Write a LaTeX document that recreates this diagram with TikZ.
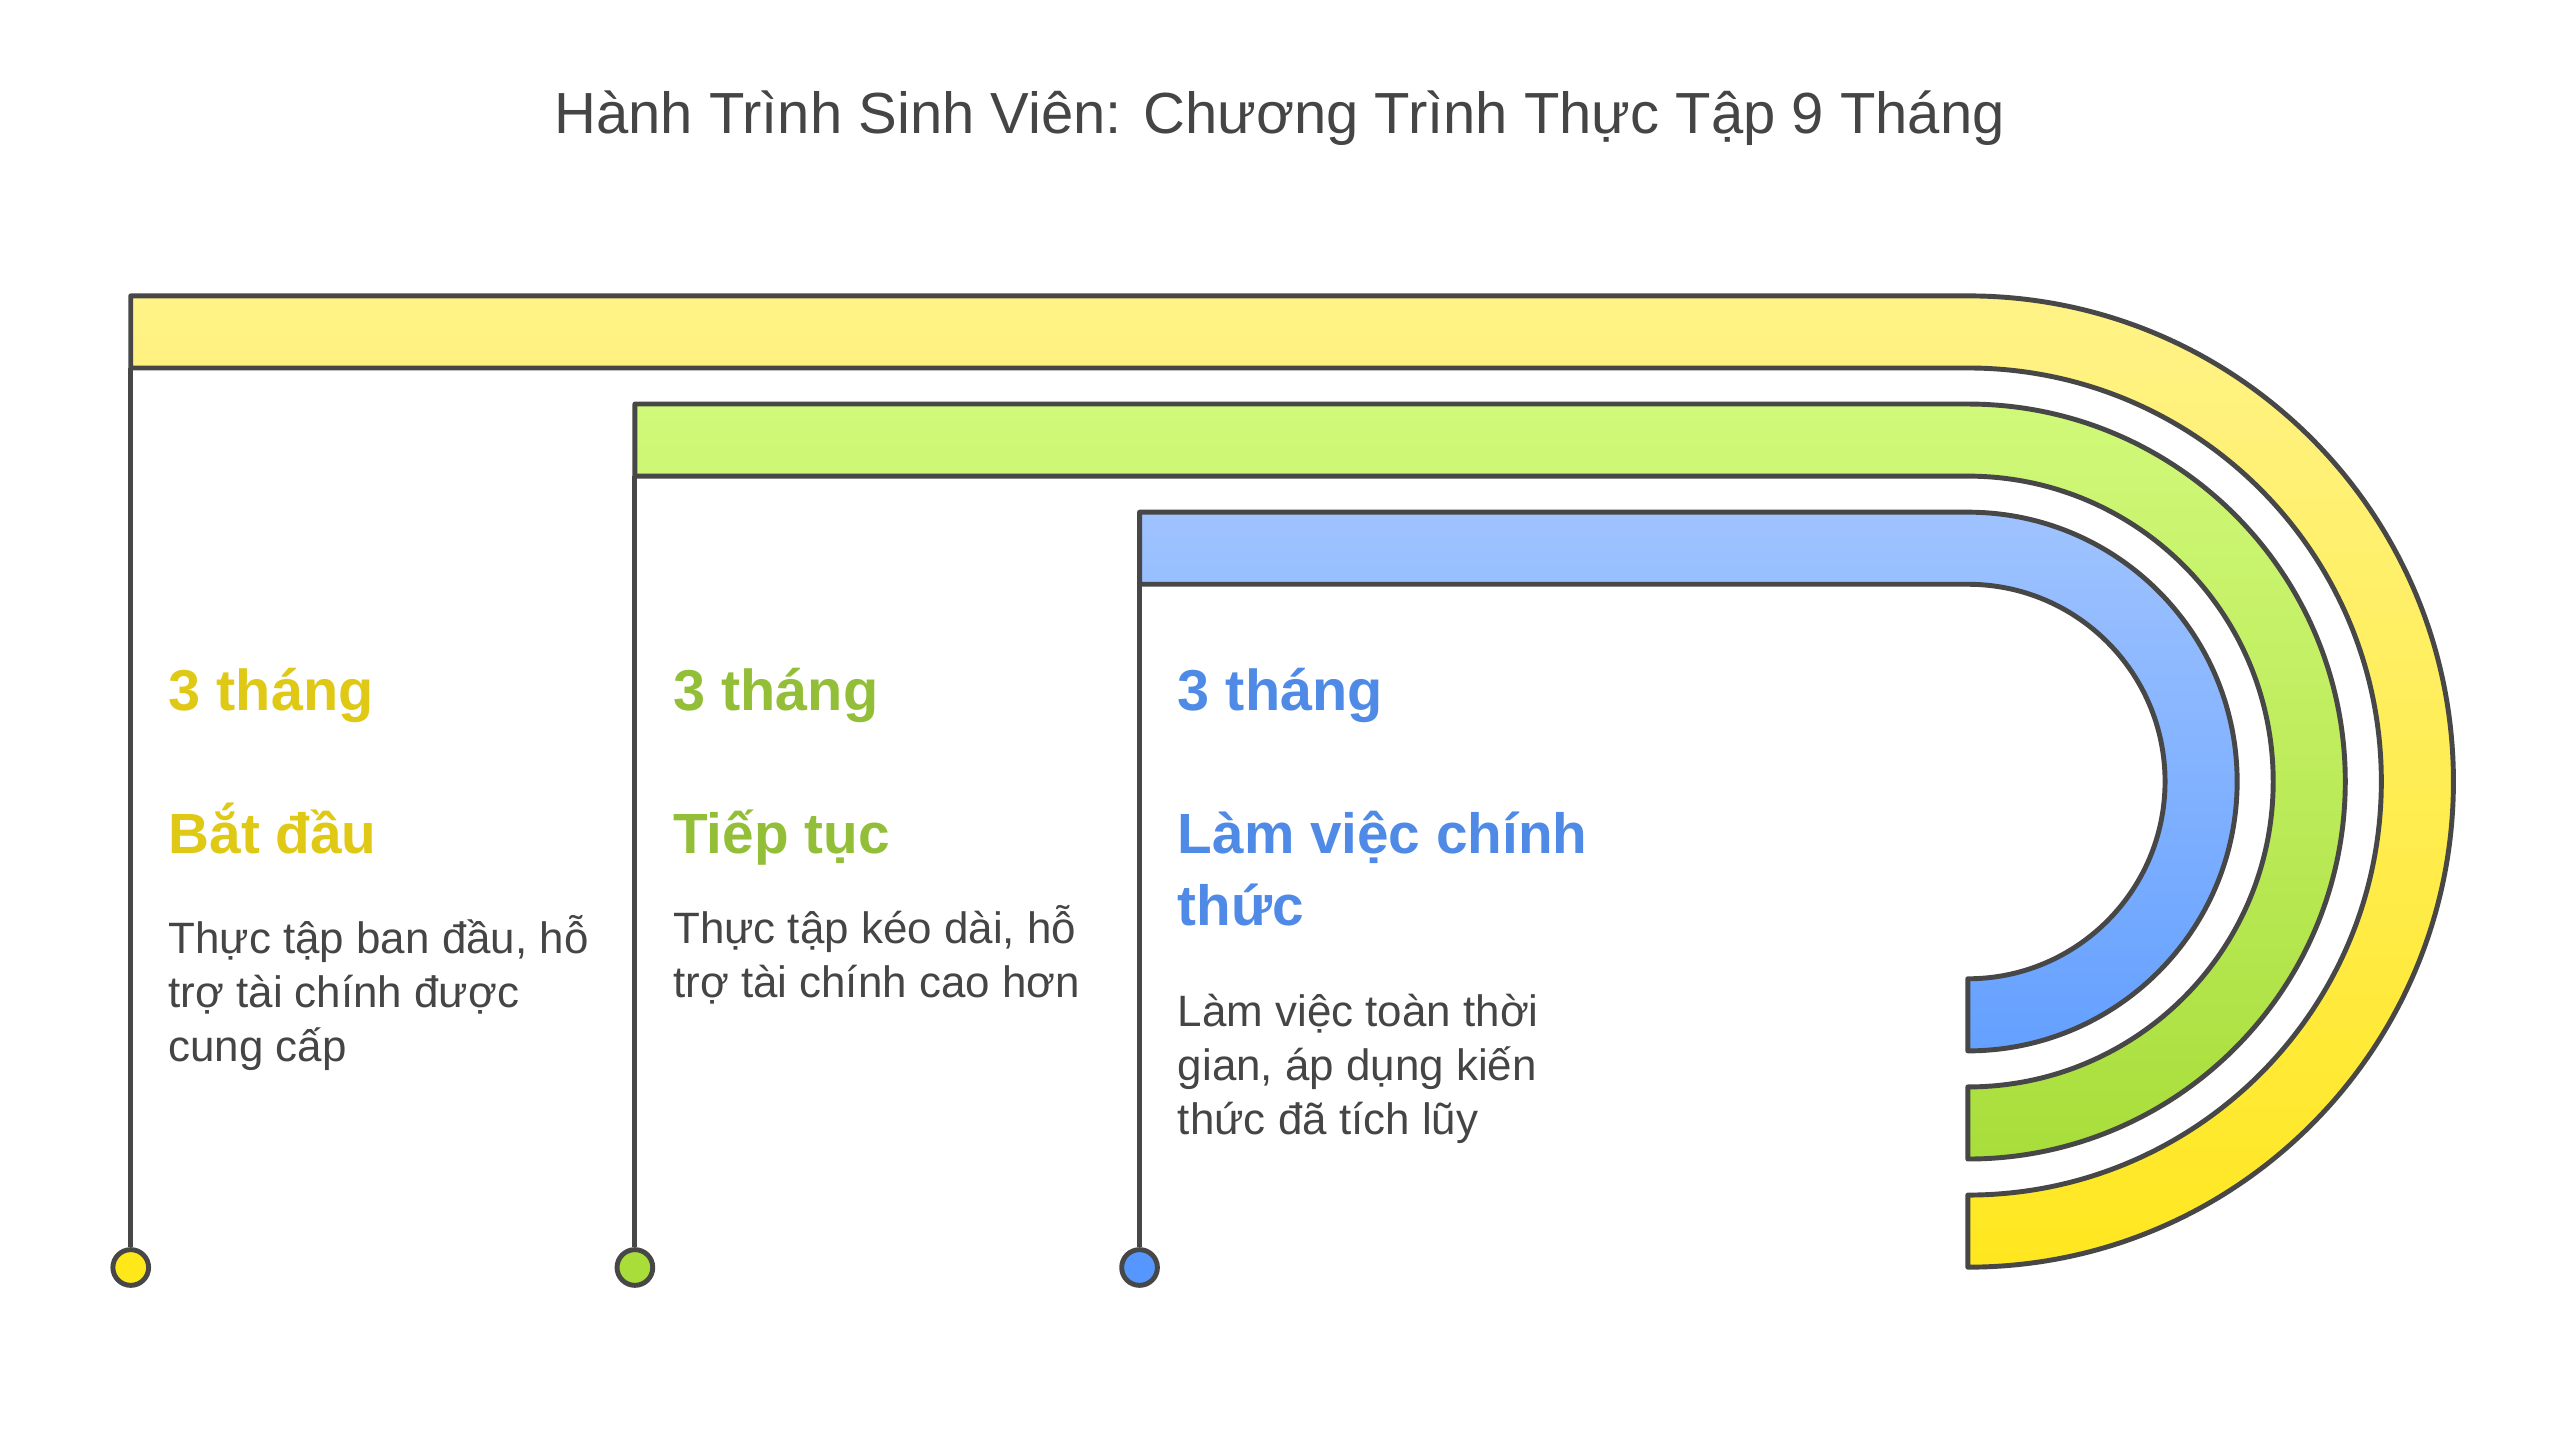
\documentclass[tikz,border=0pt]{standalone}
\usepackage{fontspec}
\setmainfont{Liberation Sans}
\definecolor{strk}{HTML}{474747}
\definecolor{txtgray}{HTML}{454545}
\definecolor{ytop}{HTML}{FFF388}
\definecolor{ybot}{HTML}{FFE71F}
\definecolor{gtop}{HTML}{D1F97A}
\definecolor{gbot}{HTML}{A8DE3B}
\definecolor{btop}{HTML}{9FC3FF}
\definecolor{bbot}{HTML}{64A0FF}
\definecolor{ydot}{HTML}{FFE81A}
\definecolor{gdot}{HTML}{A9DE3A}
\definecolor{bdot}{HTML}{5597FF}
\definecolor{ytxt}{HTML}{DFC915}
\definecolor{gtxt}{HTML}{93BE37}
\definecolor{btxt}{HTML}{4F8BE6}
\begin{document}
\begin{tikzpicture}[x=0.5pt,y=0.5pt,line join=round,
  band/.style={draw=strk,line width=1.5pt},
  stem/.style={draw=strk,line width=1.5pt},
  dotnode/.style={circle,draw=strk,line width=1.5pt,inner sep=0pt,minimum size=10.9pt},
  titletext/.style={inner sep=0pt,anchor=base,text=txtgray,font=\fontsize{17.7}{21}\selectfont},
  monthtext/.style={inner sep=0pt,anchor=base west,font=\fontsize{17.6}{22}\selectfont\bfseries},
  headtext/.style={inner sep=0pt,anchor=base west,font=\fontsize{17.3}{21.9}\selectfont\bfseries},
  desctext/.style={inner sep=0pt,anchor=base west,text=txtgray,font=\fontsize{13.4}{16.5}\selectfont}]
\useasboundingbox (0,0) rectangle (1560,877.6);
\fill[white] (0,0) rectangle (1560,877.6);

% title
\node[titletext] (title) at (781,796.2) {Hành Trình Sinh Viên: Chương Trình Thực Tập 9 Tháng};

% bands
\draw[band,top color=ytop,bottom color=ybot] (79.8,697) -- (1201,697)
  arc[start angle=90,end angle=-90,radius=296.4] -- ++(0,44)
  arc[start angle=-90,end angle=90,radius=252.4] -- (79.8,653) -- cycle;
\draw[band,top color=gtop,bottom color=gbot] (387.5,631) -- (1201,631)
  arc[start angle=90,end angle=-90,radius=230.4] -- ++(0,44)
  arc[start angle=-90,end angle=90,radius=186.4] -- (387.5,587) -- cycle;
\draw[band,top color=btop,bottom color=bbot] (695.5,565) -- (1201,565)
  arc[start angle=90,end angle=-90,radius=164.4] -- ++(0,44)
  arc[start angle=-90,end angle=90,radius=120.4] -- (695.5,521) -- cycle;

\coordinate (y1) at (79.8,653);
\coordinate (g1) at (387.5,587);
\coordinate (b1) at (695.5,521);

% dots
\node[dotnode,fill=ydot] (dy) at (79.8,104) {};
\node[dotnode,fill=gdot] (dg) at (387.5,104) {};
\node[dotnode,fill=bdot] (db) at (695.5,104) {};

\draw[stem] (y1) -- (dy.north);
\draw[stem] (g1) -- (dg.north);
\draw[stem] (b1) -- (db.north);

% column 1
\node[monthtext,text=ytxt] (m1) at (102.5,444.1) {3 tháng};
\node[headtext,text=ytxt] (h1) at (102.5,356.8) {Bắt đầu};
\node[desctext] (t1) at (102.5,295.6) {\vtop{\hbox{Thực tập ban đầu, hỗ}\hbox{trợ tài chính được}\hbox{cung cấp}}};

% column 2
\node[monthtext,text=gtxt] (m2) at (410.5,444.1) {3 tháng};
\node[headtext,text=gtxt] (h2) at (410.5,356.8) {Tiếp tục};
\node[desctext] (t2) at (410.5,301.6) {\vtop{\hbox{Thực tập kéo dài, hỗ}\hbox{trợ tài chính cao hơn}}};

% column 3
\node[monthtext,text=btxt] (m3) at (718.5,444.1) {3 tháng};
\node[headtext,text=btxt] (h3) at (718.5,356.8) {\vtop{\hbox{Làm việc chính}\hbox{thức}}};
\node[desctext] (t3) at (718.5,251) {\vtop{\hbox{Làm việc toàn thời}\hbox{gian, áp dụng kiến}\hbox{thức đã tích lũy}}};
\end{tikzpicture}
\end{document}
